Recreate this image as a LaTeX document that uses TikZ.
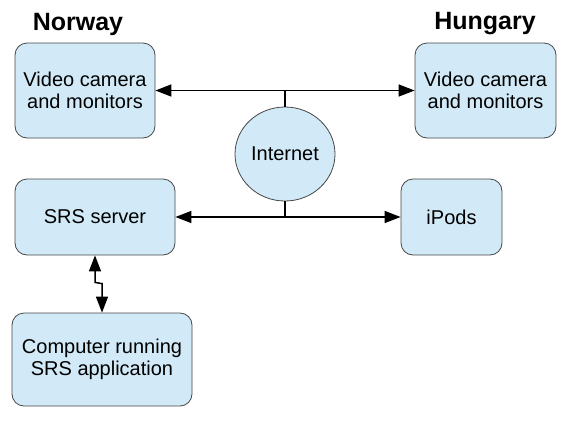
\documentclass[tikz,border=0pt]{standalone}
\usepackage{fontspec}
\setmainfont{Liberation Sans}
\usetikzlibrary{arrows.meta,shapes.geometric,calc}
\definecolor{boxblue}{RGB}{210,234,247}
\definecolor{boxline}{RGB}{70,70,70}
\tikzset{
  unit/.style={draw=boxline, line width=0.8pt, rounded corners=12pt,
    fill=boxblue, inner sep=0pt, align=center,
    font=\fontsize{20}{22}\selectfont},
  cloud/.style={ellipse, draw=boxline, line width=0.8pt, fill=boxblue,
    inner sep=0pt, minimum width=100pt, minimum height=94pt,
    font=\fontsize{20}{22}\selectfont},
  country/.style={font=\bfseries\fontsize{25}{27}\selectfont, inner sep=0pt},
  link/.style={line width=1.5pt, {Triangle[length=16pt,width=12pt]}-{Triangle[length=16pt,width=12pt]}},
  plain/.style={line width=1.5pt}
}
\begin{document}
\begin{tikzpicture}[x=1pt,y=-1pt]
\useasboundingbox (0,0) rectangle (564,426);
\node[country] (norway) at (78,24) {Norway};
\node[country] (hungary) at (485,24) {Hungary};
\node[unit, minimum width=140pt, minimum height=95pt] (v1) at (85,90.5) {Video camera\\and monitors};
\node[unit, minimum width=141pt, minimum height=95pt] (v2) at (485.5,90.5) {Video camera\\and monitors};
\node[cloud] (inet) at (285,154) {Internet};
\node[unit, minimum width=160pt, minimum height=76pt] (srs) at (95,217) {SRS server};
\node[unit, minimum width=101pt, minimum height=76pt] (ipods) at (451.5,217) {iPods};
\node[unit, minimum width=180pt, minimum height=93pt] (comp) at (102,359.5) {Computer running\\SRS application};
\draw[link] (v1.east) -- (v2.west);
\draw[plain] (inet.north) -- (inet.north |- v1.east);
\draw[link] (srs.east) -- (ipods.west);
\draw[plain] (inet.south) -- (inet.south |- srs.east);
\draw[link] (srs.south) -- ++(0,27) -- ($(comp.north)+(0,-29)$) -- (comp.north);
\end{tikzpicture}
\end{document}
